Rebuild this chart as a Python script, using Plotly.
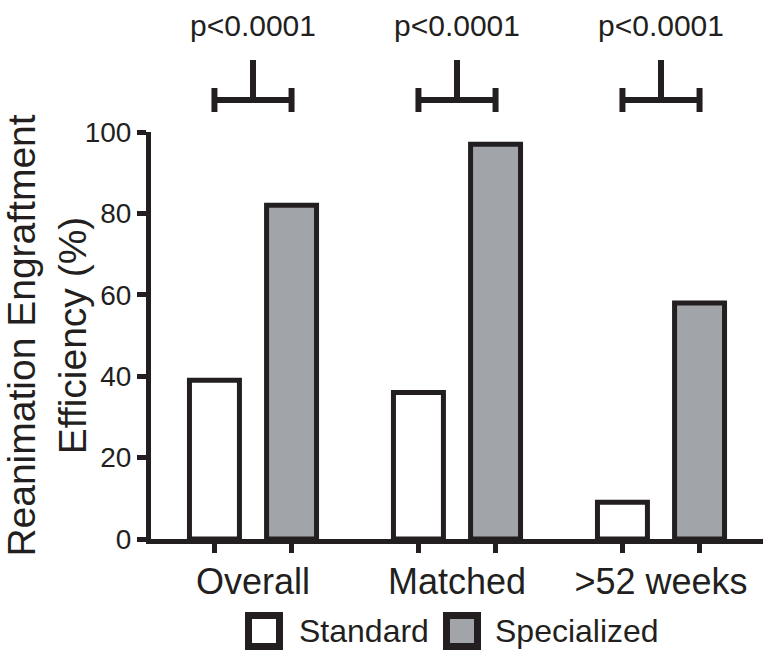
import plotly.graph_objects as go

# ---- data ----
categories = ["Overall", "Matched", ">52 weeks"]
standard = [39, 36, 9]
specialized = [82, 97, 58]
p_labels = ["p<0.0001", "p<0.0001", "p<0.0001"]
y_ticks = [0, 20, 40, 60, 80, 100]
series_names = ["Standard", "Specialized"]

# ---- style ----
INK = "#231f20"
GRAY = "#a1a4a8"
FONT = "Liberation Sans, Arial, sans-serif"
W, H = 771, 660
ML, MR, MT, MB = 151, 8, 132, 121
BARGAP, BARGROUPGAP = 0.244, 0.352
XMIN, XMAX = -0.5, len(categories) - 0.5

idx = list(range(len(categories)))
d = (1 - BARGAP) / 4  # offset of each bar centre from its group centre

pw = W - ML - MR
ph = H - MT - MB


def px_x(px):
    return (px - ML) / pw


def px_y(py):
    return (H - MB - py) / ph


def data_x_to_paper(x):
    return (x - XMIN) / (XMAX - XMIN)


fig = go.Figure()
fig.add_trace(go.Bar(x=idx, y=standard, name=series_names[0],
                     marker=dict(color="white", line=dict(color=INK, width=5)),
                     showlegend=False))
fig.add_trace(go.Bar(x=idx, y=specialized, name=series_names[1],
                     marker=dict(color=GRAY, line=dict(color=INK, width=5)),
                     showlegend=False))

shapes = []
annotations = []
# significance brackets
for i, lab in zip(idx, p_labels):
    xl = data_x_to_paper(i - d)
    xr = data_x_to_paper(i + d)
    xc = data_x_to_paper(i)
    lw = dict(color=INK, width=6)
    shapes.append(dict(type="line", xref="paper", yref="paper", x0=xl, x1=xr,
                       y0=px_y(100), y1=px_y(100), line=lw))
    shapes.append(dict(type="line", xref="paper", yref="paper", x0=xl, x1=xl,
                       y0=px_y(88), y1=px_y(112), line=lw))
    shapes.append(dict(type="line", xref="paper", yref="paper", x0=xr, x1=xr,
                       y0=px_y(88), y1=px_y(112), line=lw))
    shapes.append(dict(type="line", xref="paper", yref="paper", x0=xc, x1=xc,
                       y0=px_y(60), y1=px_y(100), line=lw))
    annotations.append(dict(text=lab, xref="paper", yref="paper", x=xc, y=px_y(25),
                            xanchor="center", yanchor="middle", showarrow=False,
                            font=dict(size=30, color=INK, family=FONT)))

# manual legend with large swatches
legend_items = [(series_names[0], "white", 245, 297), (series_names[1], GRAY, 443, 493)]
for name, fill, bx, tx in legend_items:
    shapes.append(dict(type="rect", xref="paper", yref="paper",
                       x0=px_x(bx + 3.5), x1=px_x(bx + 34.5), y0=px_y(615.5), y1=px_y(646.5),
                       fillcolor=fill, line=dict(color=INK, width=7)))
    annotations.append(dict(text=name, xref="paper", yref="paper", x=px_x(tx), y=px_y(631),
                            xanchor="left", yanchor="middle", showarrow=False,
                            font=dict(size=32, color=INK, family=FONT)))

fig.update_layout(
    width=W, height=H,
    margin=dict(l=ML, r=MR, t=MT, b=MB, autoexpand=False),
    paper_bgcolor="white", plot_bgcolor="white",
    barmode="group", bargap=BARGAP, bargroupgap=BARGROUPGAP,
    font=dict(family=FONT, color=INK),
    shapes=shapes, annotations=annotations,
    xaxis=dict(
        range=[XMIN, XMAX], showgrid=False, zeroline=False,
        showline=True, linecolor=INK, linewidth=5,
        tickmode="array", tickvals=idx, ticktext=categories,
        ticks="outside", ticklen=7, tickwidth=5, tickcolor="rgba(0,0,0,0)",
        tickfont=dict(size=36, color=INK, family=FONT),
        minor=dict(tickmode="array",
                   tickvals=[v for i in idx for v in (i - d, i + d)],
                   ticks="outside", ticklen=9, tickwidth=5, tickcolor=INK),
        fixedrange=True,
    ),
    yaxis=dict(
        range=[0, 100], showgrid=False, zeroline=False,
        showline=True, linecolor=INK, linewidth=5,
        tickmode="array", tickvals=y_ticks,
        ticks="outside", ticklen=9, tickwidth=5, tickcolor=INK,
        tickfont=dict(size=28, color=INK, family=FONT),
        title=dict(text="Reanimation Engraftment<br>Efficiency (%)",
                   font=dict(size=39, color=INK, family=FONT), standoff=6),
        fixedrange=True,
    ),
)

fig.write_html("out.html", config={"displayModeBar": False},
               post_script="document.body.style.margin='0px';")
